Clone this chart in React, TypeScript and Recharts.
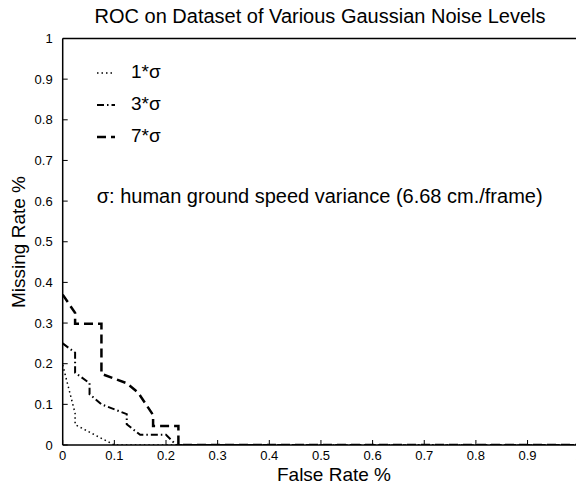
import { LineChart, Line, XAxis, YAxis, Legend } from 'recharts'

const FONT = '"Liberation Sans", Arial, Helvetica, sans-serif'

const AXIS_TICKS = [0, 0.1, 0.2, 0.3, 0.4, 0.5, 0.6, 0.7, 0.8, 0.9, 1]

// ROC points (false rate, missing rate)
const sigma1 = [
  { x: 0, y: 0.197 },
  { x: 0.024, y: 0.078 },
  { x: 0.024, y: 0.05 },
  { x: 0.1, y: 0 },
  { x: 1, y: 0 },
]

const sigma3 = [
  { x: 0, y: 0.25 },
  { x: 0.024, y: 0.227 },
  { x: 0.024, y: 0.178 },
  { x: 0.052, y: 0.152 },
  { x: 0.052, y: 0.125 },
  { x: 0.075, y: 0.1 },
  { x: 0.124, y: 0.076 },
  { x: 0.124, y: 0.051 },
  { x: 0.15, y: 0.025 },
  { x: 0.2, y: 0.025 },
  { x: 0.22, y: 0 },
  { x: 1, y: 0 },
]

const sigma7 = [
  { x: 0, y: 0.37 },
  { x: 0.024, y: 0.325 },
  { x: 0.024, y: 0.298 },
  { x: 0.075, y: 0.298 },
  { x: 0.075, y: 0.175 },
  { x: 0.124, y: 0.152 },
  { x: 0.146, y: 0.129 },
  { x: 0.175, y: 0.074 },
  { x: 0.175, y: 0.047 },
  { x: 0.224, y: 0.047 },
  { x: 0.224, y: 0 },
  { x: 1, y: 0 },
]

const SERIES = [
  { name: '1*σ', data: sigma1, dash: '1.5 3', width: 1.5 },
  { name: '3*σ', data: sigma3, dash: '7 3 1.5 3', width: 2 },
  { name: '7*σ', data: sigma7, dash: '9 5', width: 2.5 },
]

const fmt = (v: number) => (v === 0 || v === 1 ? String(v) : v.toFixed(1))

// ticks point into the plot, labels sit outside
const BottomTick = (props: any) => {
  const { x, y, payload } = props
  return (
    <g>
      <line x1={x} y1={y} x2={x} y2={y - 5} stroke="#000" strokeWidth={1} />
      <text x={x} y={y + 15} textAnchor="middle" fontSize={13} fontFamily={FONT} fill="#000">
        {fmt(payload.value)}
      </text>
    </g>
  )
}

const LeftTick = (props: any) => {
  const { x, y, payload } = props
  return (
    <g>
      <line x1={x} y1={y} x2={x + 5} y2={y} stroke="#000" strokeWidth={1} />
      <text x={x - 10} y={y + 4.5} textAnchor="end" fontSize={13} fontFamily={FONT} fill="#000">
        {fmt(payload.value)}
      </text>
    </g>
  )
}

const TopTick = (props: any) => {
  const { x, y } = props
  return <line x1={x} y1={y} x2={x} y2={y + 5} stroke="#000" strokeWidth={1} />
}

const RightTick = (props: any) => {
  const { x, y } = props
  return <line x1={x} y1={y} x2={x - 5} y2={y} stroke="#000" strokeWidth={1} />
}

const LegendBox = () => (
  <svg width={480} height={160} style={{ display: 'block', overflow: 'visible' }}>
    {SERIES.map((s, i) => (
      <g key={s.name}>
        <line x1={7} y1={18 + i * 32} x2={25} y2={18 + i * 32} stroke="#000" strokeWidth={s.width} strokeDasharray={s.dash} />
        <text x={41} y={23 + i * 32} fontSize={19} fontFamily={FONT} fill="#000">
          {s.name}
        </text>
      </g>
    ))}
    <text x={6.7} y={148} fontSize={20} fontFamily={FONT} fill="#000">
      σ: human ground speed variance (6.68 cm./frame)
    </text>
  </svg>
)

export default function App() {
  return (
    <div style={{ position: 'absolute', left: 0, top: 0, width: 576, height: 486, overflow: 'hidden', background: '#fff' }}>
      <LineChart width={582} height={486} margin={{ top: 0, right: 0, bottom: 0, left: 0 }}>
        <XAxis
          dataKey="x"
          type="number"
          domain={[0, 1]}
          ticks={AXIS_TICKS}
          tick={<BottomTick />}
          tickSize={0}
          tickMargin={0}
          height={41}
          axisLine={{ stroke: '#000', strokeWidth: 1.5 }}
          tickLine={false}
          interval={0}
          allowDataOverflow
        />
        <XAxis
          xAxisId="top"
          orientation="top"
          dataKey="x"
          type="number"
          domain={[0, 1]}
          ticks={AXIS_TICKS}
          tick={<TopTick />}
          tickSize={0}
          tickMargin={0}
          height={38.5}
          axisLine={{ stroke: '#000', strokeWidth: 1.5 }}
          tickLine={false}
          interval={0}
        />
        <YAxis
          type="number"
          domain={[0, 1]}
          ticks={AXIS_TICKS}
          tick={<LeftTick />}
          tickSize={0}
          tickMargin={0}
          width={62.7}
          axisLine={{ stroke: '#000', strokeWidth: 1.5 }}
          tickLine={false}
          interval={0}
          allowDataOverflow
        />
        <YAxis
          yAxisId="right"
          orientation="right"
          type="number"
          domain={[0, 1]}
          ticks={AXIS_TICKS}
          tick={<RightTick />}
          tickSize={0}
          tickMargin={0}
          width={2.8}
          axisLine={{ stroke: '#000', strokeWidth: 1.5 }}
          tickLine={false}
          interval={0}
        />
        {SERIES.map((s) => (
          <Line
            key={s.name}
            data={s.data}
            dataKey="y"
            name={s.name}
            type="linear"
            stroke="#000"
            strokeWidth={s.width}
            strokeDasharray={s.dash}
            dot={false}
            isAnimationActive={false}
          />
        ))}
        <Legend
          layout="vertical"
          align="center"
          verticalAlign="middle"
          content={<LegendBox />}
          wrapperStyle={{ left: 90, top: 55, width: 480, height: 160 }}
        />
        <text x={320} y={23} textAnchor="middle" fontSize={20} fontFamily={FONT} fill="#000">
          ROC on Dataset of Various Gaussian Noise Levels
        </text>
        <text x={334} y={481} textAnchor="middle" fontSize={19} fontFamily={FONT} fill="#000">
          False Rate %
        </text>
        <text x={25} y={242} textAnchor="middle" fontSize={19} fontFamily={FONT} fill="#000" transform="rotate(-90 25 242)">
          Missing Rate %
        </text>
      </LineChart>
    </div>
  )
}
